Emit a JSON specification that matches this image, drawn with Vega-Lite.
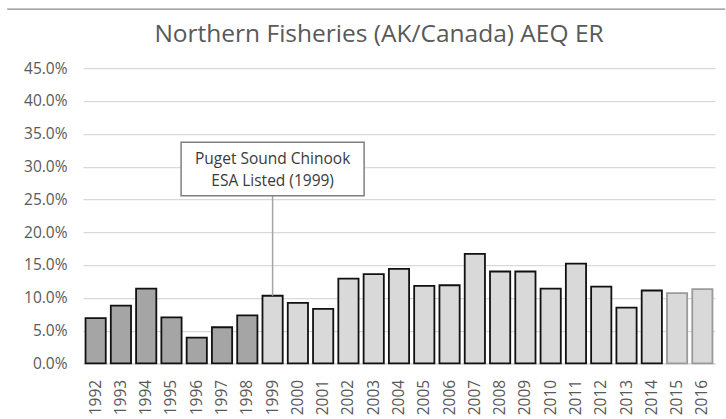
{
  "$schema": "https://vega.github.io/schema/vega-lite/v6.json",
  "autosize": "none",
  "width": 718,
  "height": 409,
  "padding": {"left": 7, "top": 9, "right": 1, "bottom": 1},
  "background": "white",
  "config": {
    "view": {"stroke": "#8a8a8a", "strokeWidth": 1.3, "strokeDash": [718, 2000]},
    "font": "Open Sans"
  },
  "title": {
    "text": "Northern Fisheries (AK/Canada) AEQ ER",
    "anchor": "middle",
    "frame": "group",
    "offset": 0,
    "baseline": "alphabetic",
    "dy": 57,
    "dx": 13,
    "font": "Open Sans",
    "fontSize": 24.5,
    "fontWeight": "normal",
    "color": "#595959"
  },
  "layer": [
    {
      "data": {
        "values": [
          {"year": "1992", "er": 0.069, "grp": "pre"},
          {"year": "1993", "er": 0.088, "grp": "pre"},
          {"year": "1994", "er": 0.114, "grp": "pre"},
          {"year": "1995", "er": 0.070, "grp": "pre"},
          {"year": "1996", "er": 0.039, "grp": "pre"},
          {"year": "1997", "er": 0.055, "grp": "pre"},
          {"year": "1998", "er": 0.073, "grp": "pre"},
          {"year": "1999", "er": 0.103, "grp": "post"},
          {"year": "2000", "er": 0.092, "grp": "post"},
          {"year": "2001", "er": 0.083, "grp": "post"},
          {"year": "2002", "er": 0.129, "grp": "post"},
          {"year": "2003", "er": 0.136, "grp": "post"},
          {"year": "2004", "er": 0.144, "grp": "post"},
          {"year": "2005", "er": 0.118, "grp": "post"},
          {"year": "2006", "er": 0.119, "grp": "post"},
          {"year": "2007", "er": 0.167, "grp": "post"},
          {"year": "2008", "er": 0.140, "grp": "post"},
          {"year": "2009", "er": 0.140, "grp": "post"},
          {"year": "2010", "er": 0.114, "grp": "post"},
          {"year": "2011", "er": 0.152, "grp": "post"},
          {"year": "2012", "er": 0.117, "grp": "post"},
          {"year": "2013", "er": 0.085, "grp": "post"},
          {"year": "2014", "er": 0.111, "grp": "post"},
          {"year": "2015", "er": 0.107, "grp": "prelim"},
          {"year": "2016", "er": 0.113, "grp": "prelim"}
        ]
      },
      "mark": {"type": "bar", "strokeWidth": 1.8},
      "encoding": {
        "x": {
          "field": "year",
          "type": "ordinal",
          "sort": "ascending",
          "scale": {"range": [76, 708], "paddingInner": 0.2, "paddingOuter": 0.1},
          "axis": {
            "title": null,
            "orient": "bottom",
            "offset": -54.7,
            "labelAngle": -90,
            "labelPadding": 16,
            "ticks": false,
            "tickSize": 0,
            "grid": false,
            "domainColor": "#d9d9d9",
            "domainWidth": 1.5,
            "labelFont": "Open Sans",
            "labelFontSize": 15.5,
            "labelColor": "#595959"
          }
        },
        "y": {
          "field": "er",
          "type": "quantitative",
          "scale": {"domain": [0, 0.45], "range": [354.3, 59.2], "nice": false, "zero": true},
          "axis": {
            "title": null,
            "orient": "left",
            "offset": -76,
            "values": [0, 0.05, 0.1, 0.15, 0.2, 0.25, 0.3, 0.35, 0.4, 0.45],
            "format": ".1%",
            "domain": false,
            "ticks": false,
            "tickSize": 0,
            "labelPadding": 16,
            "grid": true,
            "gridColor": "#d9d9d9",
            "gridWidth": 1.25,
            "labelFont": "Open Sans",
            "labelFontSize": 15.5,
            "labelColor": "#595959"
          }
        },
        "fill": {
          "field": "grp",
          "type": "nominal",
          "scale": {"domain": ["pre", "post", "prelim"], "range": ["#a5a5a5", "#d9d9d9", "#d9d9d9"]},
          "legend": null
        },
        "stroke": {
          "field": "grp",
          "type": "nominal",
          "scale": {"domain": ["pre", "post", "prelim"], "range": ["#111111", "#111111", "#9a9a9a"]},
          "legend": null
        }
      }
    },
    {
      "data": {"values": [{"note": "leader"}]},
      "mark": {"type": "rule", "color": "#a5a5a5", "strokeWidth": 1.5},
      "encoding": {
        "x": {"datum": "1999"},
        "y": {"datum": 0.103},
        "y2": {"datum": 0.2556}
      }
    },
    {
      "data": {"values": [{"note": "box"}]},
      "mark": {"type": "bar", "width": 183, "fill": "white", "stroke": "#7f7f7f", "strokeWidth": 1.5},
      "encoding": {
        "x": {"datum": "1999"},
        "y": {"datum": 0.2556},
        "y2": {"datum": 0.337}
      }
    },
    {
      "data": {"values": [{"note": "label"}]},
      "mark": {
        "type": "text",
        "text": ["Puget Sound Chinook", "ESA Listed (1999)"],
        "font": "Open Sans",
        "fontSize": 15.5,
        "lineHeight": 22,
        "color": "#3a3a3a",
        "align": "center",
        "baseline": "middle"
      },
      "encoding": {
        "x": {"datum": "1999"},
        "y": {"datum": 0.3115}
      }
    }
  ]
}
